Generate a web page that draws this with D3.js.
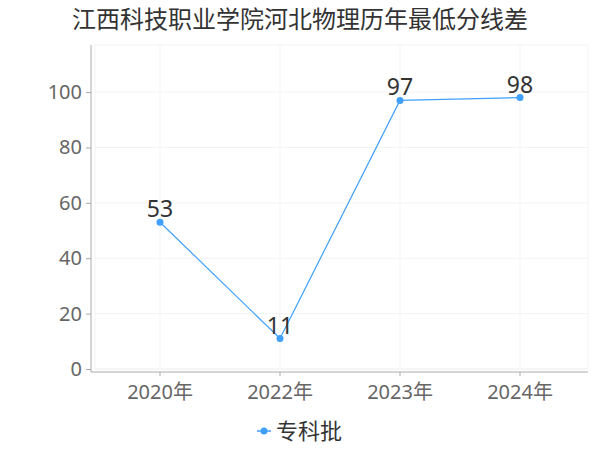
<!DOCTYPE html>
<html><head><meta charset="utf-8">
<script src="https://cdn.jsdelivr.net/npm/d3@7"></script>
<style>body{margin:0;background:#fff}svg{display:block;font-family:"Noto Sans CJK SC","Noto Sans",sans-serif}</style>
</head><body><svg id="c" width="600" height="450"></svg>
<script>
const categories = ["2020年","2022年","2023年","2024年"];
const values = [53, 11, 97, 98];
const yTicks = [0,20,40,60,80,100];
const seriesName = "专科批";
const title = "江西科技职业学院河北物理历年最低分线差";

const svg = d3.select("#c");
const L=100, R=580, T=45, B=369;
const x = d3.scaleBand().domain(categories).range([L,R]);
const y = d3.scaleLinear().domain([0,117]).range([B,T]);
const color = "#3fa0ff";

svg.append("text").attr("x",300).attr("y",28).attr("text-anchor","middle")
  .attr("font-size",24).attr("fill","#333").text(title);

const g = svg.append("g");
g.append("rect").attr("x",95).attr("y",T).attr("width",R+8-95).attr("height",B-T)
  .attr("fill","none").attr("stroke","#f3f3f3");
yTicks.forEach(t=>{
  g.append("line").attr("x1",95).attr("x2",R+8).attr("y1",y(t)).attr("y2",y(t)).attr("stroke","#f3f3f3");
});
categories.forEach(c=>{
  const cx = x(c)+x.bandwidth()/2;
  g.append("line").attr("x1",cx).attr("x2",cx).attr("y1",T).attr("y2",B).attr("stroke","#f3f3f3");
});

const ya = svg.append("g").attr("transform","translate(91,0)")
  .call(d3.axisLeft(y).tickValues(yTicks).tickSize(5).tickPadding(4));
ya.select(".domain").attr("stroke","#aaa").attr("d",`M0,${T}V${B+3}`);
ya.selectAll(".tick line").attr("stroke","#aaa");
ya.selectAll("text").attr("font-size",20).attr("fill","#666").attr("font-family","Noto Sans, sans-serif");

const xa = svg.append("g").attr("transform",`translate(0,${B+3})`)
  .call(d3.axisBottom(x).tickSize(4).tickPadding(6));
xa.select(".domain").attr("stroke","#aaa").attr("d",`M91,0H${R+8}`);
xa.selectAll(".tick line").attr("stroke","#aaa");
xa.selectAll("text").attr("font-size",20).attr("fill","#666").attr("dy","0.85em").attr("font-family","Noto Sans, Noto Sans CJK SC, sans-serif");

const pts = categories.map((c,i)=>({c, v: values[i]}));
const line = d3.line().x(d=>x(d.c)+x.bandwidth()/2).y(d=>y(d.v));
svg.append("path").datum(pts).attr("d",line).attr("fill","none").attr("stroke",color).attr("stroke-width",1.2);
svg.selectAll("circle.p").data(pts).enter().append("circle")
  .attr("cx",d=>x(d.c)+x.bandwidth()/2).attr("cy",d=>y(d.v)).attr("r",3.5).attr("fill",color);
svg.selectAll("text.lbl").data(pts).enter().append("text")
  .attr("x",d=>x(d.c)+x.bandwidth()/2).attr("y",d=>y(d.v)-5)
  .attr("text-anchor","middle").attr("font-size",23).attr("fill","#333")
  .attr("font-family","Noto Sans, sans-serif").text(d=>d.v);

const lg = svg.append("g").attr("transform","translate(264,431)");
lg.append("line").attr("x1",-7).attr("x2",7).attr("stroke",color).attr("stroke-width",1.5);
lg.append("circle").attr("r",3.5).attr("fill",color);
lg.append("text").attr("x",12).attr("y",0).attr("dy","0.35em").attr("font-size",22).attr("fill","#333").text(seriesName);
</script></body></html>
